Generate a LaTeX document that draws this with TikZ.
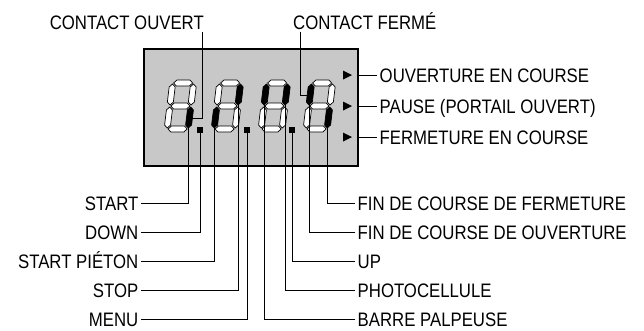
\documentclass[tikz,border=0pt]{standalone}
\usepackage{fontspec}
\setmainfont{Liberation Sans}[FakeStretch=0.86]
\usepackage{tikz}
\usepackage{xcolor}
\definecolor{dispGray}{RGB}{200,200,200}
\newcommand{\lblfont}{\fontsize{19.5}{22}\selectfont}

% one segment, horizontal or vertical (local units, y down)
\newcommand{\hseg}[4]{\draw[#1] (#2,#4) -- (#2+3,#4-3) -- (#3-3,#4-3) -- (#3,#4) -- (#3-3,#4+3) -- (#2+3,#4+3) -- cycle;}
\newcommand{\vseg}[4]{\draw[#1] (#2,#3) -- (#2+3,#3+3) -- (#2+3,#4-3) -- (#2,#4) -- (#2-3,#4-3) -- (#2-3,#3+3) -- cycle;}

% slanted digit: name, x, then styles of a b c d e f g
\newcommand{\sevenseg}[9]{%
  \begin{scope}[shift={(#2,80)}, xslant=0.12]
    \hseg{#3}{4}{23}{3}
    \vseg{#4}{24}{4}{25}
    \vseg{#5}{24}{27}{48}
    \hseg{#6}{4}{23}{49}
    \vseg{#7}{3}{27}{48}
    \vseg{#8}{3}{4}{25}
    \hseg{#9}{4}{23}{26}
    \coordinate (#1b) at (24,25);
    \coordinate (#1c) at (24,48);
    \coordinate (#1cm) at (24,38);
    \coordinate (#1e) at (3,48);
    \coordinate (#1f) at (3,25);
    \coordinate (#1fm) at (3,15);
  \end{scope}}

\begin{document}
\begin{tikzpicture}[x=1pt, y=-1pt,
  lbl/.style={font=\lblfont, text height=14pt, text depth=0pt,
              inner xsep=2.5pt, inner ysep=0pt},
  wire/.style={line width=1pt, black},
  segoff/.style={fill=white, draw=black, line width=0.7pt},
  segon/.style={fill=black, draw=black, line width=0.7pt},
  dpt/.style={fill=black, minimum size=6pt, inner sep=0pt},
]
  \useasboundingbox (0,0) rectangle (644,330);

  % display
  \node[draw, fill=dispGray, line width=1.6pt, minimum width=214pt,
        minimum height=117pt, anchor=north west, inner sep=0pt] (disp) at (143,48) {};

  \sevenseg{dA}{170}{segoff}{segoff}{segon}{segoff}{segoff}{segoff}{segoff}
  \sevenseg{dB}{217}{segoff}{segon}{segoff}{segoff}{segon}{segoff}{segoff}
  \sevenseg{dC}{264}{segoff}{segon}{segoff}{segoff}{segoff}{segon}{segoff}
  \sevenseg{dD}{309}{segoff}{segoff}{segon}{segoff}{segoff}{segon}{segoff}

  \node[dpt] (dp1) at (200,130) {};
  \node[dpt] (dp2) at (247,130) {};
  \node[dpt] (dp3) at (292,130) {};

  \foreach \ty in {75,106,137}
    \fill (343,\ty-4.5) -- (352,\ty) -- (343,\ty+4.5) -- cycle;

  % top labels
  \node[lbl, inner xsep=0pt, anchor=east] (lOuvert) at (204,22.5) {CONTACT OUVERT};
  \node[lbl, inner xsep=0pt, anchor=west] (lFerme) at (293,22.5) {CONTACT FERMÉ};
  \draw[wire] ([shift={(-2pt,-2pt)}]lOuvert.south east) |- (dAcm);
  \draw[wire] ([shift={(7pt,-2pt)}]lFerme.south west) |- (dDfm);

  % status on the right
  \node[lbl, anchor=west] (sOuv) at (377,75) {OUVERTURE EN COURSE};
  \node[lbl, anchor=west] (sPause) at (377,106) {PAUSE (PORTAIL OUVERT)};
  \node[lbl, anchor=west] (sFerm) at (377,137) {FERMETURE EN COURSE};
  \draw[wire] (sOuv.west -| disp.east) -- (sOuv.west);
  \draw[wire] (sPause.west -| disp.east) -- (sPause.west);
  \draw[wire] (sFerm.west -| disp.east) -- (sFerm.west);

  % inputs, left
  \node[lbl, anchor=east] (lStart) at (141,203) {START};
  \node[lbl, anchor=east] (lDown) at (141,232) {DOWN};
  \node[lbl, anchor=east] (lPieton) at (141,261) {START PIÉTON};
  \node[lbl, anchor=east] (lStop) at (141,290) {STOP};
  \node[lbl, anchor=east] (lMenu) at (141,319) {MENU};
  \draw[wire] (lStart.east) -| (dAc);
  \draw[wire] (lDown.east) -| (dp1.south);
  \draw[wire] (lPieton.east) -| (dBe);
  \draw[wire] (lStop.east) -| (dBb);
  \draw[wire] (lMenu.east) -| (dp2.south);

  % inputs, right
  \node[lbl, anchor=west] (lFinF) at (355,203) {FIN DE COURSE DE FERMETURE};
  \node[lbl, anchor=west] (lFinO) at (355,232) {FIN DE COURSE DE OUVERTURE};
  \node[lbl, anchor=west] (lUp) at (355,261) {UP};
  \node[lbl, anchor=west] (lPhoto) at (355,290) {PHOTOCELLULE};
  \node[lbl, anchor=west] (lBarre) at (355,319) {BARRE PALPEUSE};
  \draw[wire] (lFinF.west) -| (dDc);
  \draw[wire] (lFinO.west) -| (dDf);
  \draw[wire] (lUp.west) -| (dp3.south);
  \draw[wire] (lPhoto.west) -| (dCb);
  \draw[wire] (lBarre.west) -| (dCf);
\end{tikzpicture}
\end{document}
